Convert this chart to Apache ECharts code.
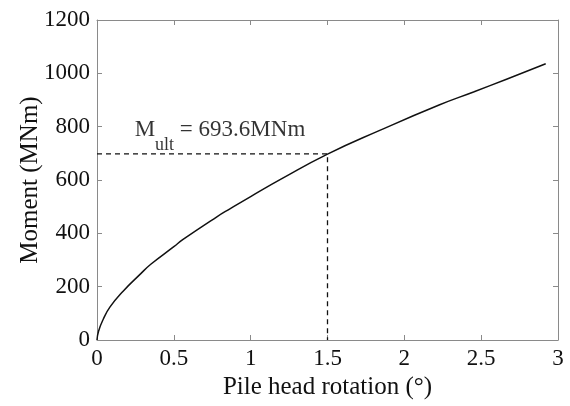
<!DOCTYPE html>
<html>
<head>
<meta charset="utf-8">
<script src="https://cdn.jsdelivr.net/npm/echarts@6/dist/echarts.min.js"></script>
<style>html,body{margin:0;padding:0;background:#fff}#c{width:570px;height:406px}</style>
</head>
<body>
<div id="c"></div>
<script>
// Data
const rotation = [0, 0.01, 0.04, 0.085, 0.17, 0.28, 0.35, 0.5, 0.56, 0.78, 0.865, 1.0, 1.2, 1.5, 1.84, 2.23, 2.45, 2.665, 2.92];
const moment   = [0, 33, 77, 124, 183, 246, 284, 350, 377, 462, 492, 538, 604, 697, 786, 882, 930, 978, 1036];
const ultRotation = 1.5;
const ultMoment = 698;
const ultLabel = 693.6;
const xTicks = [0, 0.5, 1, 1.5, 2, 2.5, 3];
const yTicks = [0, 200, 400, 600, 800, 1000, 1200];
const labelPos = [0.245, 765];

const FONT = '"Liberation Serif", "Times New Roman", serif';
const axisColor = '#8a8a8a';
const textColor = '#111';

const chart = echarts.init(document.getElementById('c'));
const baseX = {
  type: 'value', min: xTicks[0], max: xTicks[xTicks.length - 1], interval: 0.5,
  axisLine: { show: true, onZero: false, lineStyle: { color: axisColor, width: 1 } },
  axisTick: { show: true, inside: true, length: 5, lineStyle: { color: axisColor } },
  splitLine: { show: false }
};
const baseY = {
  type: 'value', min: yTicks[0], max: yTicks[yTicks.length - 1], interval: 200,
  axisLine: { show: true, onZero: false, lineStyle: { color: axisColor, width: 1 } },
  axisTick: { show: true, inside: true, length: 5, lineStyle: { color: axisColor } },
  splitLine: { show: false }
};
chart.setOption({
  animation: false,
  backgroundColor: '#fff',
  grid: { left: 97, right: 12, top: 20, bottom: 66, containLabel: false, outerBoundsMode: 'none' },
  xAxis: [
    Object.assign({}, baseX, {
      position: 'bottom',
      name: 'Pile head rotation (°)', nameLocation: 'middle', nameGap: 33,
      nameTextStyle: { fontFamily: FONT, fontSize: 25, color: textColor },
      axisLabel: { margin: 7, fontFamily: FONT, fontSize: 23, color: textColor, formatter: v => String(v) }
    }),
    Object.assign({}, baseX, { position: 'top', axisLabel: { show: false } })
  ],
  yAxis: [
    Object.assign({}, baseY, {
      position: 'left',
      name: 'Moment (MNm)', nameLocation: 'middle', nameGap: 54, nameRotate: 90,
      nameMoveOverlap: false,
      nameTextStyle: { fontFamily: FONT, fontSize: 25, color: textColor },
      axisLabel: { margin: 7, fontFamily: FONT, fontSize: 23, color: textColor, formatter: v => String(v) }
    }),
    Object.assign({}, baseY, { position: 'right', axisLabel: { show: false } })
  ],
  series: [
    {
      type: 'line', xAxisIndex: 0, yAxisIndex: 0,
      data: rotation.map((r, i) => [r, moment[i]]),
      smooth: 0.5, showSymbol: false, symbol: 'none',
      lineStyle: { color: '#111', width: 1.5 }
    },
    {
      type: 'line', xAxisIndex: 0, yAxisIndex: 0,
      data: [[0, ultMoment], [ultRotation, ultMoment], [ultRotation, 0]],
      showSymbol: false, symbol: 'none',
      lineStyle: { color: '#111', width: 1.3, type: [5, 4] }
    },
    {
      type: 'scatter', xAxisIndex: 0, yAxisIndex: 0,
      data: [labelPos], symbolSize: 0,
      label: {
        show: true, position: 'right', distance: 0,
        formatter: '{m|M}{s|ult}{m| = ' + ultLabel + 'MNm}',
        rich: {
          m: { fontFamily: FONT, fontSize: 23, color: '#000', verticalAlign: 'top', lineHeight: 36 },
          s: { fontFamily: FONT, fontSize: 18, color: '#000', verticalAlign: 'bottom', lineHeight: 36 }
        }
      }
    }
  ]
});
</script>
</body>
</html>
